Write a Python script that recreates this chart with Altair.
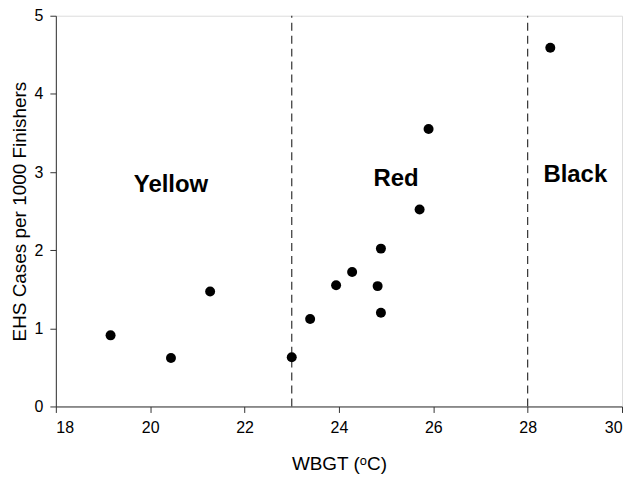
import altair as alt
import pandas as pd

# Data
wbgt = [19.16, 20.44, 21.27, 23.0, 23.39, 23.94, 24.28, 24.82, 24.89, 24.89, 25.71, 25.90, 28.48]
ehs = [0.91, 0.62, 1.47, 0.63, 1.12, 1.55, 1.72, 1.54, 1.20, 2.02, 2.52, 3.55, 4.59]

cutoffs = [23, 28]

zone_names = ["Yellow", "Red", "Black"]
zone_x = [20.44, 25.21, 29.01]
zone_y = [2.75, 2.825, 2.875]

x_ticks = [18, 20, 22, 24, 26, 28, 30]
y_ticks = [0, 1, 2, 3, 4, 5]

FONT = "Liberation Sans"
AX = "#333333"

pts = pd.DataFrame({"x": wbgt, "y": ehs})
rules = pd.DataFrame({"x": cutoffs, "y0": [0] * len(cutoffs), "y1": [5] * len(cutoffs)})
labels = pd.DataFrame({"x": zone_x, "y": zone_y, "t": zone_names})

xscale = alt.Scale(domain=[18, 30], nice=False, zero=False)
yscale = alt.Scale(domain=[0, 5], nice=False)

xaxis = alt.Axis(values=x_ticks, format="d", title="WBGT (ᵒC)", grid=False, tickSize=6,
                 labelPadding=7, titlePadding=19, labelFontSize=16, titleFontSize=19,
                 labelFont=FONT, titleFont=FONT, titleFontWeight="normal",
                 domainColor=AX, tickColor=AX, labelColor="black", titleColor="black")
yaxis = alt.Axis(values=y_ticks, format="d", title="EHS Cases per 1000 Finishers", grid=False, tickSize=6,
                 labelPadding=7, titlePadding=5, labelFontSize=16, titleFontSize=19,
                 labelFont=FONT, titleFont=FONT, titleFontWeight="normal",
                 domainColor=AX, tickColor=AX, labelColor="black", titleColor="black")

points = alt.Chart(pts).mark_circle(size=100, color="black", opacity=1).encode(
    x=alt.X("x:Q", scale=xscale, axis=xaxis),
    y=alt.Y("y:Q", scale=yscale, axis=yaxis),
)

rule_layer = alt.Chart(rules).mark_rule(color=AX, strokeDash=[8, 5], strokeWidth=1.2).encode(
    x=alt.X("x:Q", scale=xscale),
    y=alt.Y("y0:Q", scale=yscale),
    y2="y1:Q",
)

text_layer = alt.Chart(labels).mark_text(
    font=FONT, fontSize=24, fontWeight="bold", color="black",
    align="center", baseline="alphabetic"
).encode(
    x=alt.X("x:Q", scale=xscale),
    y=alt.Y("y:Q", scale=yscale),
    text="t:N",
)

chart = alt.layer(rule_layer, points, text_layer).properties(
    width=568, height=392,
    autosize=alt.AutoSizeParams(type="none"),
    padding={"left": 48, "top": 7, "right": 4, "bottom": 70},
).configure_view(stroke=AX, strokeWidth=1.2).configure(background="white")

chart.save("out.html", embed_options={"renderer": "svg", "actions": False})
